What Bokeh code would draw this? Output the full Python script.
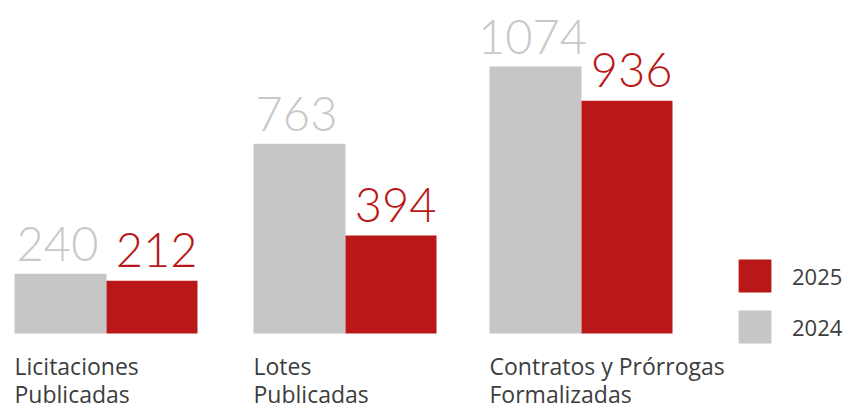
from bokeh.plotting import figure
from bokeh.models import Range1d, ColumnDataSource, Legend, LegendItem
from bokeh.core.properties import value
from bokeh.embed import file_html
from bokeh.resources import INLINE

categories = ["Licitaciones\nPublicadas", "Lotes\nPublicadas", "Contratos y Prórrogas\nFormalizadas"]
values_2024 = [240, 763, 1074]
values_2025 = [212, 394, 936]
series_names = ["2025", "2024"]

RED = "#BA1818"
GRAY = "#C6C6C6"
TXT = "#3d3d3d"

W, H = 850, 409
# layout (pixels)
group_left = [14, 253, 489]
bar_w = 92
px_per_unit = 267 / 1074.0
base_px = 76
y0 = -base_px / px_per_unit
y1 = y0 + H / px_per_unit

p = figure(width=W, height=H, output_backend="svg", toolbar_location=None,
           x_range=Range1d(0, W), y_range=Range1d(y0, y1),
           min_border=0)
p.axis.visible = False
p.grid.visible = False
p.outline_line_color = None
p.background_fill_color = None
p.border_fill_color = None

gx = [g + bar_w / 2 for g in group_left]
rx = [g + bar_w + bar_w / 2 - 0.5 for g in group_left]
src24 = ColumnDataSource(dict(x=gx, top=values_2024, lab=[str(v) for v in values_2024],
                              lx=[x - 3 for x in gx]))
src25 = ColumnDataSource(dict(x=rx, top=values_2025, lab=[str(v) for v in values_2025],
                              lx=[g + 2 * bar_w - 1 for g in group_left]))

r24 = p.vbar(x="x", top="top", bottom=0, width=bar_w, source=src24, fill_color=GRAY, line_color=None)
r25 = p.vbar(x="x", top="top", bottom=0, width=bar_w - 1, source=src25, fill_color=RED, line_color=None)

num_font = value("Lato Light")
p.text(x="lx", y="top", text="lab", source=src24, text_align="center", text_baseline="alphabetic",
       y_offset=-30, text_font=num_font, text_font_size="47px", text_color="#C8C8C8")
p.text(x="lx", y="top", text="lab", source=src25, text_align="right", text_baseline="alphabetic",
       y_offset=-31, text_font=num_font, text_font_size="47px", text_color=RED)

csrc = ColumnDataSource(dict(x=group_left, y=[0] * 3, t=categories))
p.text(x="x", y="y", text="t", source=csrc, text_align="left", text_baseline="top",
       y_offset=16, text_font=value("Open Sans"), text_font_size="23px", text_color=TXT,
       text_line_height=0.9)

legend = Legend(items=[LegendItem(label=series_names[0], renderers=[r25]),
                       LegendItem(label=series_names[1], renderers=[r24])],
                location=(734, 62), orientation="vertical",
                glyph_width=41, glyph_height=41, label_standoff=17, spacing=10,
                padding=0, margin=0, border_line_color=None, background_fill_alpha=0,
                label_text_font="Open Sans", label_text_font_size="22px",
                label_text_color=TXT, label_text_baseline="middle")
p.add_layout(legend)

open("out.html", "w").write(file_html(p, INLINE))
